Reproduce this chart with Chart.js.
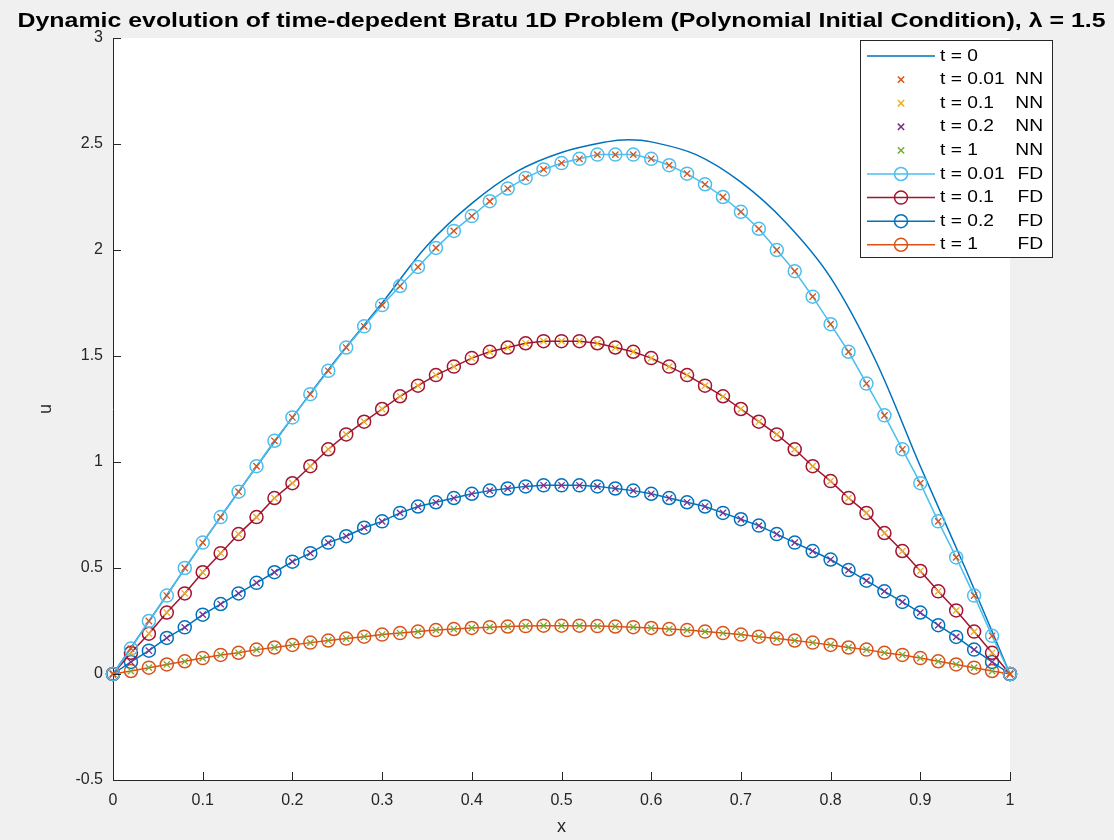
<!DOCTYPE html>
<html>
<head>
<meta charset="utf-8">
<title>Bratu 1D</title>
<script src="https://cdn.jsdelivr.net/npm/chart.js@4.4.1/dist/chart.umd.min.js"></script>
<style>
  html, body { margin: 0; padding: 0; background: #f0f0f0; }
  #wrap { width: 1114px; height: 840px; }
</style>
</head>
<body>
<div id="wrap"><canvas id="bratuChart" width="1114" height="840"></canvas></div>
<script>
// solver grid (step 0.02)
var xs = [0, 0.02, 0.04, 0.06, 0.08, 0.1, 0.12, 0.14, 0.16, 0.18, 0.2, 0.22, 0.24, 0.26, 0.28, 0.3,
          0.32, 0.34, 0.36, 0.38, 0.4, 0.42, 0.44, 0.46, 0.48, 0.5, 0.52, 0.54, 0.56, 0.58, 0.6,
          0.62, 0.64, 0.66, 0.68, 0.7, 0.72, 0.74, 0.76, 0.78, 0.8, 0.82, 0.84, 0.86, 0.88, 0.9,
          0.92, 0.94, 0.96, 0.98, 1];

// initial condition
var x0 = [0, 0.05, 0.1, 0.15, 0.2, 0.25, 0.3, 0.35, 0.4, 0.45, 0.5, 0.55, 0.575, 0.6, 0.65, 0.7, 0.75, 0.8, 0.85, 0.9, 0.95, 1];
var u0 = [0, 0.31, 0.62, 0.92, 1.21, 1.49, 1.75, 2.02, 2.22, 2.37, 2.46, 2.51, 2.52, 2.51, 2.45, 2.32, 2.13, 1.87, 1.48, 0.98, 0.5, 0];

// finite difference solutions
var fd001 = [0, 0.12, 0.25, 0.37, 0.5, 0.62, 0.74, 0.86, 0.98, 1.1, 1.21, 1.32, 1.43, 1.54, 1.64, 1.74,
             1.83, 1.92, 2.01, 2.09, 2.16, 2.23, 2.29, 2.34, 2.38, 2.41, 2.43, 2.45, 2.45, 2.45, 2.43,
             2.4, 2.36, 2.31, 2.25, 2.18, 2.1, 2.0, 1.9, 1.78, 1.65, 1.52, 1.37, 1.22, 1.06, 0.9,
             0.72, 0.55, 0.37, 0.18, 0];
var fd01 = [0, 0.1, 0.19, 0.29, 0.38, 0.48, 0.57, 0.66, 0.74, 0.83, 0.9, 0.98, 1.06, 1.13, 1.19, 1.25,
            1.31, 1.36, 1.41, 1.45, 1.49, 1.52, 1.54, 1.56, 1.57, 1.57, 1.57, 1.56, 1.54, 1.52, 1.49,
            1.45, 1.41, 1.36, 1.31, 1.25, 1.19, 1.13, 1.06, 0.98, 0.91, 0.83, 0.76, 0.665, 0.58, 0.486,
            0.39, 0.3, 0.2, 0.1, 0];
var fd02 = [0, 0.057, 0.11, 0.17, 0.22, 0.28, 0.33, 0.38, 0.43, 0.48, 0.53, 0.57, 0.62, 0.65, 0.69, 0.72,
            0.76, 0.79, 0.81, 0.83, 0.85, 0.865, 0.875, 0.885, 0.89, 0.89, 0.89, 0.885, 0.875, 0.865, 0.85,
            0.83, 0.81, 0.79, 0.76, 0.73, 0.7, 0.66, 0.62, 0.58, 0.54, 0.49, 0.44, 0.39, 0.34, 0.29,
            0.23, 0.175, 0.115, 0.057, 0];
var fd1 = [0, 0.014, 0.03, 0.045, 0.06, 0.075, 0.09, 0.1, 0.115, 0.125, 0.137, 0.148, 0.158, 0.167, 0.176, 0.186,
           0.193, 0.2, 0.207, 0.212, 0.217, 0.221, 0.224, 0.226, 0.228, 0.228, 0.228, 0.226, 0.224, 0.221, 0.217,
           0.212, 0.207, 0.2, 0.193, 0.186, 0.176, 0.167, 0.158, 0.148, 0.137, 0.125, 0.115, 0.1, 0.09, 0.075,
           0.06, 0.045, 0.03, 0.014, 0];

// network predictions sit right on top of the FD circles
var nn001 = fd001.slice();
var nn01 = fd01.slice();
var nn02 = fd02.slice();
var nn1 = fd1.slice();

var xTicks = [0, 0.1, 0.2, 0.3, 0.4, 0.5, 0.6, 0.7, 0.8, 0.9, 1];
var yTicks = [-0.5, 0, 0.5, 1, 1.5, 2, 2.5, 3];

var FONT = '"Liberation Sans", Arial, Helvetica, sans-serif';
var AXIS_COLOR = '#262626';
var TITLE = 'Dynamic evolution of time-depedent Bratu 1D Problem (Polynomial Initial Condition), \u03bb = 1.5';

function pts(xv, yv) {
    return xv.map(function(x, i) { return { x: x, y: yv[i] }; });
}

function nnSet(label, values, color) {
    return {
        label: label,
        data: pts(xs, values),
        showLine: false,
        pointStyle: 'crossRot',
        pointRadius: 4.5,
        pointBorderWidth: 1.3,
        borderColor: color,
        backgroundColor: color,
        order: 0,
        clip: false
    };
}

function fdSet(label, values, color) {
    return {
        label: label,
        data: pts(xs, values),
        showLine: true,
        borderColor: color,
        borderWidth: 1.5,
        pointStyle: 'circle',
        pointRadius: 6.5,
        pointBorderWidth: 1.5,
        pointBorderColor: color,
        pointBackgroundColor: 'rgba(0,0,0,0)',
        order: 1,
        clip: false
    };
}

var datasets = [
    {
        label: 't = 0',
        data: pts(x0, u0),
        showLine: true,
        borderColor: '#0072BD',
        borderWidth: 1.5,
        pointRadius: 0,
        tension: 0.35,
        order: 2,
        clip: false
    },
    nnSet('t = 0.01 NN', nn001, '#D95319'),
    nnSet('t = 0.1 NN', nn01, '#EDB120'),
    nnSet('t = 0.2 NN', nn02, '#7E2F8E'),
    nnSet('t = 1 NN', nn1, '#77AC30'),
    fdSet('t = 0.01 FD', fd001, '#4DBEEE'),
    fdSet('t = 0.1 FD', fd01, '#A2142F'),
    fdSet('t = 0.2 FD', fd02, '#0072BD'),
    fdSet('t = 1 FD', fd1, '#D95319')
];

// grey figure, white axes
var backgroundPlugin = {
    id: 'background',
    beforeDraw: function(chart) {
        var ctx = chart.ctx, a = chart.chartArea;
        ctx.save();
        ctx.fillStyle = '#f0f0f0';
        ctx.fillRect(0, 0, chart.width, chart.height);
        ctx.fillStyle = '#ffffff';
        ctx.fillRect(a.left, a.top, a.right - a.left, a.bottom - a.top);
        ctx.restore();
    }
};

// matlab style ticks pointing inside
var ticksPlugin = {
    id: 'innerTicks',
    afterDraw: function(chart) {
        var ctx = chart.ctx, a = chart.chartArea;
        var sx = chart.scales.x, sy = chart.scales.y;
        ctx.save();
        ctx.strokeStyle = AXIS_COLOR;
        ctx.lineWidth = 1;
        ctx.beginPath();
        xTicks.forEach(function(v) {
            var px = Math.round(sx.getPixelForValue(v)) + 0.5;
            ctx.moveTo(px, a.bottom);
            ctx.lineTo(px, a.bottom - 8);
        });
        yTicks.forEach(function(v) {
            var py = Math.round(sy.getPixelForValue(v)) + 0.5;
            ctx.moveTo(a.left, py);
            ctx.lineTo(a.left + 8, py);
        });
        ctx.stroke();
        ctx.restore();
    }
};

// the title in the picture is wider than Arial, stretch it to the same span
var titlePlugin = {
    id: 'figTitle',
    afterDraw: function(chart) {
        var ctx = chart.ctx, a = chart.chartArea;
        ctx.save();
        ctx.font = 'bold 21px ' + FONT;
        ctx.fillStyle = '#000000';
        ctx.textAlign = 'center';
        ctx.textBaseline = 'middle';
        var w = ctx.measureText(TITLE).width;
        var k = 1088 / w;
        ctx.translate((a.left + a.right) / 2, 21);
        ctx.scale(k, 1);
        ctx.fillText(TITLE, 0, 0);
        ctx.restore();
    }
};

function stretchText(ctx, text, x, y, k, align) {
    ctx.save();
    ctx.translate(x, y);
    ctx.scale(k, 1);
    ctx.textAlign = align;
    ctx.fillText(text, 0, 0);
    ctx.restore();
}

// legend box in the upper right corner, like matlab's 'northeast'
var legendPlugin = {
    id: 'boxLegend',
    afterDraw: function(chart) {
        var ctx = chart.ctx;
        var left = 860, top = 40, right = 1052, bottom = 257;
        ctx.save();
        ctx.fillStyle = '#ffffff';
        ctx.fillRect(left, top, right - left, bottom - top);
        ctx.strokeStyle = AXIS_COLOR;
        ctx.lineWidth = 1;
        ctx.strokeRect(left + 0.5, top + 0.5, right - left, bottom - top);

        ctx.font = '17px ' + FONT;
        ctx.textBaseline = 'middle';
        chart.data.datasets.forEach(function(ds, i) {
            var y = 56 + i * 23.6;
            if (ds.showLine) {
                ctx.strokeStyle = ds.borderColor;
                ctx.lineWidth = ds.borderWidth;
                ctx.beginPath();
                ctx.moveTo(867, y);
                ctx.lineTo(935, y);
                ctx.stroke();
            }
            if (ds.pointRadius > 0) {
                ctx.strokeStyle = ds.pointBorderColor || ds.borderColor;
                ctx.fillStyle = 'rgba(0,0,0,0)';
                Chart.helpers.drawPoint(ctx, {
                    pointStyle: ds.pointStyle,
                    radius: ds.pointRadius,
                    borderWidth: ds.pointBorderWidth
                }, 901, y);
            }
            ctx.fillStyle = '#000000';
            var parts = ds.label.split(' ');
            var tail = parts[parts.length - 1];
            if (tail === 'NN' || tail === 'FD') {
                stretchText(ctx, parts.slice(0, -1).join(' '), 940, y, 1.13, 'left');
                stretchText(ctx, tail, 1043, y, 1.13, 'right');
            } else {
                stretchText(ctx, ds.label, 940, y, 1.13, 'left');
            }
        });
        ctx.restore();
    }
};

function plainTick(value) {
    return String(value);
}

var ctx = document.getElementById('bratuChart').getContext('2d');
var bratuChart = new Chart(ctx, {
    type: 'scatter',
    data: { datasets: datasets },
    plugins: [backgroundPlugin, ticksPlugin, titlePlugin, legendPlugin],
    options: {
        responsive: false,
        animation: false,
        devicePixelRatio: 1,
        layout: { padding: { top: 38, right: 104, bottom: 0, left: 0 } },
        plugins: {
            legend: { display: false },
            tooltip: { enabled: false },
            title: { display: false }
        },
        scales: {
            x: {
                type: 'linear',
                min: 0,
                max: 1,
                afterBuildTicks: function(scale) {
                    scale.ticks = xTicks.map(function(v) { return { value: v }; });
                },
                afterFit: function(scale) { scale.height = 60; },
                grid: { display: false, drawTicks: false },
                border: { display: true, color: AXIS_COLOR, width: 1 },
                ticks: {
                    padding: 11,
                    color: AXIS_COLOR,
                    font: { family: FONT, size: 16 },
                    maxRotation: 0,
                    autoSkip: false,
                    callback: plainTick
                },
                title: {
                    display: true,
                    text: 'x',
                    color: AXIS_COLOR,
                    font: { family: FONT, size: 18 },
                    padding: { top: 0, bottom: 2 }
                }
            },
            y: {
                type: 'linear',
                min: -0.5,
                max: 3,
                afterBuildTicks: function(scale) {
                    scale.ticks = yTicks.map(function(v) { return { value: v }; });
                },
                afterFit: function(scale) { scale.width = 113; },
                grid: { display: false, drawTicks: false },
                border: { display: true, color: AXIS_COLOR, width: 1 },
                ticks: {
                    padding: 10,
                    color: AXIS_COLOR,
                    font: { family: FONT, size: 16 },
                    autoSkip: false,
                    callback: plainTick
                },
                title: {
                    display: true,
                    text: 'u',
                    color: AXIS_COLOR,
                    font: { family: FONT, size: 18 },
                    padding: { top: 35, bottom: 0 }
                }
            }
        }
    }
});
</script>
</body>
</html>
